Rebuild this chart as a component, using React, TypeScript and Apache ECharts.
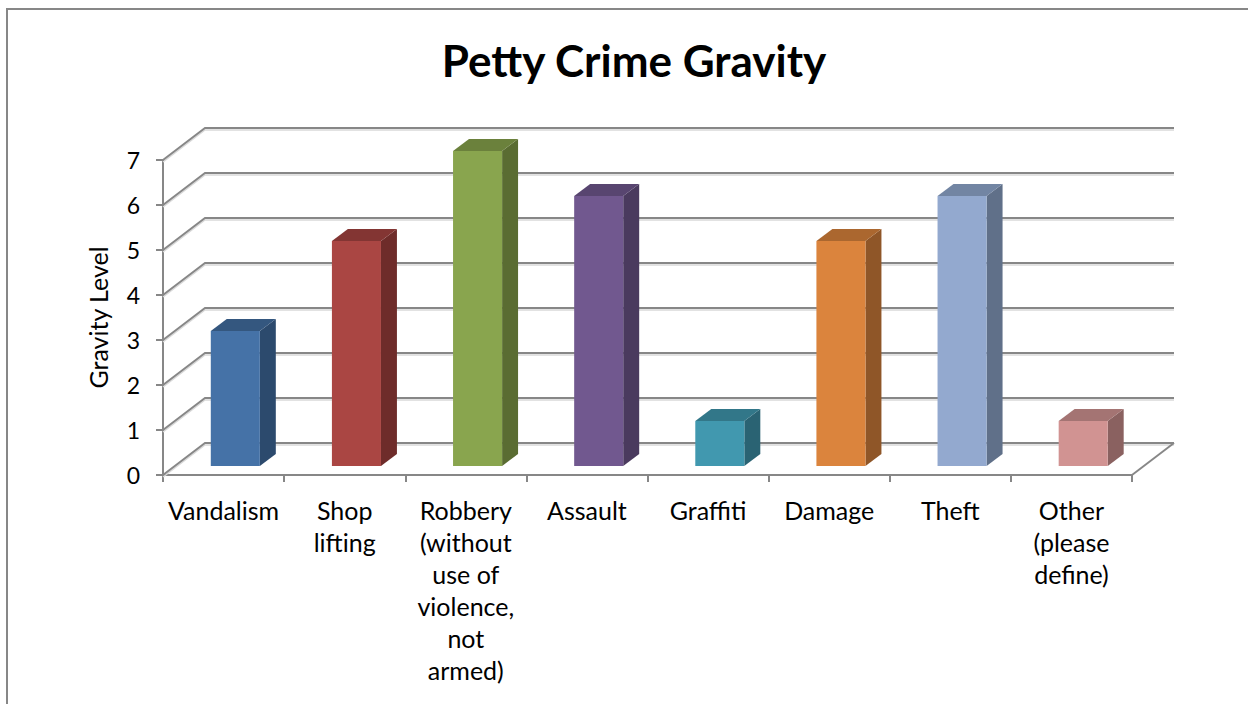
import React, { useEffect, useRef } from "react";
import * as echarts from "echarts";

const categories = [
  "Vandalism",
  "Shop\nlifting",
  "Robbery\n(without\nuse of\nviolence,\nnot\narmed)",
  "Assault",
  "Graffiti",
  "Damage",
  "Theft",
  "Other\n(please\ndefine)",
];
const values = [3, 5, 7, 6, 1, 5, 6, 1];
const yTicks = [0, 1, 2, 3, 4, 5, 6, 7];

const frontColors = ["#4572A7", "#AA4643", "#89A54E", "#71588F", "#4198AF", "#DB843D", "#93A9CF", "#D19392"];
const topColors = ["#34577F", "#833533", "#6B813C", "#584570", "#327789", "#AB672F", "#7285A3", "#A47473"];
const sideColors = ["#2C4A6D", "#6E2C2A", "#5A6C32", "#4A3A5E", "#2A6373", "#8F5628", "#607089", "#8A6160"];

const DX = 42;
const DY = 32;
const D1 = 0.28;
const D2 = 0.66;
const BAR_FRAC = 0.405;
const GRID = "#878787";
const FONT = "Lato, 'Open Sans', sans-serif";

export default function App() {
  const ref = useRef<HTMLDivElement>(null);
  useEffect(() => {
    document.body.style.margin = "0";
    const chart = echarts.init(ref.current!, null, { renderer: "svg" });
    const option: any = {
      animation: false,
      backgroundColor: "#ffffff",
      title: {
        text: "Petty Crime Gravity",
        left: 629,
        top: 33,
        textAlign: "center",
        textStyle: { fontFamily: FONT, fontWeight: "bold", fontSize: 44, color: "#000" },
      },
      graphic: [
        {
          type: "polyline",
          shape: { points: [[7, 710], [7, 9], [1260, 9]] },
          style: { stroke: GRID, lineWidth: 2, fill: null },
        },
      ],
      grid: { left: 163, right: 116, top: 160, bottom: 229 },
      xAxis: {
        type: "category",
        data: categories,
        axisLine: { show: true, lineStyle: { color: GRID, width: 2 } },
        axisTick: { show: true, length: 7, interval: 0, lineStyle: { color: GRID, width: 2 } },
        axisLabel: {
          interval: 0,
          margin: 19,
          fontFamily: FONT,
          fontSize: 25,
          lineHeight: 32,
          color: "#000",
        },
        splitLine: { show: false },
      },
      yAxis: {
        type: "value",
        min: 0,
        max: 7,
        interval: 1,
        name: "Gravity Level",
        nameLocation: "middle",
        nameGap: 53,
        nameTextStyle: { fontFamily: FONT, fontSize: 25, color: "#000" },
        axisLine: { show: true, lineStyle: { color: GRID, width: 2 } },
        axisTick: { show: true, length: 7, lineStyle: { color: GRID, width: 2 } },
        axisLabel: { margin: 23, fontFamily: FONT, fontSize: 23, color: "#000" },
        splitLine: { show: false },
      },
      series: [
        {
          type: "custom",
          clip: false,
          silent: true,
          data: yTicks.map((v) => [0, v]),
          renderItem: (params: any, api: any) => {
            const cs = params.coordSys;
            const v = api.value(1);
            const y = api.coord([0, v])[1];
            const x0 = cs.x;
            const x1 = cs.x + cs.width;
            const children: any[] = [
              {
                type: "polyline",
                shape: { points: [[x0, y + 2], [x0 + DX, y - DY + 2], [x1 + DX, y - DY + 2]] },
                style: { stroke: "#d9d9d9", lineWidth: 1.5, fill: null },
              },
              {
                type: "polyline",
                shape: { points: [[x0, y], [x0 + DX, y - DY], [x1 + DX, y - DY]] },
                style: { stroke: GRID, lineWidth: 2, fill: null },
              },
            ];
            if (v === 0) {
              children.push({
                type: "line",
                shape: { x1: x1, y1: y, x2: x1 + DX, y2: y - DY },
                style: { stroke: GRID, lineWidth: 2 },
              });
            }
            return { type: "group", children };
          },
          z: 1,
        },
        {
          type: "custom",
          clip: false,
          data: values.map((v, i) => [i, v]),
          renderItem: (params: any, api: any) => {
            const i = api.value(0);
            const v = api.value(1);
            const base = api.coord([i, 0]);
            const top = api.coord([i, v]);
            const catW = api.size([1, 0])[0];
            const bw = catW * BAR_FRAC;
            const xl = base[0] - bw / 2 + DX * D1;
            const xr = xl + bw;
            const yb = base[1] - DY * D1;
            const yt = top[1] - DY * D1;
            const ddx = DX * (D2 - D1);
            const ddy = DY * (D2 - D1);
            const idx = params.dataIndex;
            return {
              type: "group",
              children: [
                {
                  type: "polygon",
                  shape: { points: [[xr, yb], [xr + ddx, yb - ddy], [xr + ddx, yt - ddy], [xr, yt]] },
                  style: { fill: sideColors[idx] },
                },
                {
                  type: "polygon",
                  shape: { points: [[xl, yt], [xr, yt], [xr + ddx, yt - ddy], [xl + ddx, yt - ddy]] },
                  style: { fill: topColors[idx] },
                },
                {
                  type: "rect",
                  shape: { x: xl, y: yt, width: bw, height: yb - yt },
                  style: { fill: frontColors[idx] },
                },
              ],
            };
          },
          z: 3,
        },
      ],
    };
    chart.setOption(option);
    return () => chart.dispose();
  }, []);
  return <div ref={ref} style={{ width: 1248, height: 704 }} />;
}
